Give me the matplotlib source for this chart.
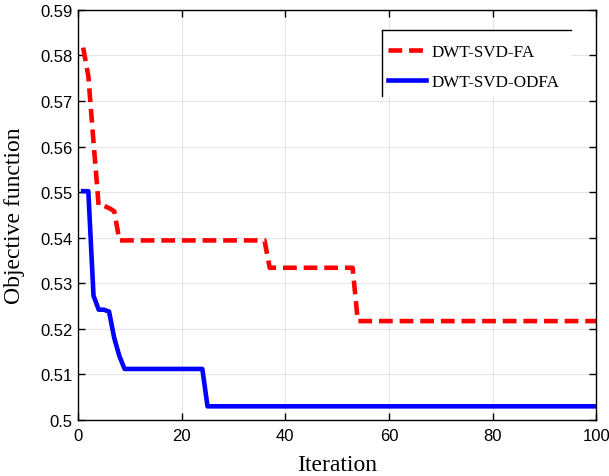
import matplotlib
matplotlib.use("Agg")
import matplotlib.pyplot as plt
from matplotlib.lines import Line2D
from matplotlib.patches import Rectangle

# iteration / objective value pairs (vertices of the traces)
itFA  = [1, 2, 3, 4, 5, 6, 7, 8, 36, 37, 53, 54, 100]
objFA = [0.5817, 0.5755, 0.5610, 0.5470, 0.5470, 0.5465, 0.5458, 0.5394,
         0.5394, 0.5334, 0.5334, 0.5217, 0.5217]

itODFA  = [1, 2, 3, 4, 5, 6, 7, 8, 9, 24, 25, 100]
objODFA = [0.5502, 0.5502, 0.5273, 0.5242, 0.5242, 0.5238, 0.5180, 0.5140,
           0.5112, 0.5112, 0.5030, 0.5030]

xTicks = [0, 20, 40, 60, 80, 100]
yTicks = [0.5, 0.51, 0.52, 0.53, 0.54, 0.55, 0.56, 0.57, 0.58, 0.59]
yTickLabels = ['0.5', '0.51', '0.52', '0.53', '0.54', '0.55', '0.56', '0.57', '0.58', '0.59']

serif = 'Liberation Serif'
sans = 'Liberation Sans'

fig = plt.figure(figsize=(6.09, 4.77), dpi=100)
ax = fig.add_axes([0.128, 0.1174, 0.851, 0.86])

ax.plot(itFA, objFA, color='red', linewidth=3.3, linestyle=(0, (3, 1.5)),
        label='DWT-SVD-FA')
ax.plot(itODFA, objODFA, color='blue', linewidth=3.3, label='DWT-SVD-ODFA')

ax.set_xlim(0, 100)
ax.set_ylim(0.5, 0.59)
ax.set_xticks(xTicks)
ax.set_xticklabels([str(t) for t in xTicks], fontfamily=sans, fontsize=12)
ax.set_yticks(yTicks)
ax.set_yticklabels(yTickLabels, fontfamily=sans, fontsize=12)
ax.tick_params(direction='in', length=5, width=1, top=True, right=True, pad=4)
ax.tick_params(axis='x', pad=6)
ax.grid(True, color='#e6e6e6', linewidth=0.8)
ax.set_axisbelow(True)
for sp in ax.spines.values():
    sp.set_linewidth(1)

ax.set_xlabel('Iteration', fontfamily=serif, fontsize=17, labelpad=8)
ax.set_ylabel('Objective function', fontfamily=serif, fontsize=17, labelpad=11)

# legend box position (axes fraction)
x0, x1 = 0.587, 0.952
y0, y1 = 0.790, 0.951
leg = ax.legend(loc='upper left',
                bbox_to_anchor=(x0 - 0.016, y0, x1 - x0, y1 - y0),
                mode='expand', borderaxespad=0, frameon=False,
                prop={'family': serif, 'size': 12.3}, handlelength=2.2,
                handletextpad=0.3, labelspacing=0.8, borderpad=0.85)

# white legend background; box only shows its top and left edges
ax.add_patch(Rectangle((x0, y0), x1 - x0, y1 - y0, transform=ax.transAxes,
                       facecolor='white', edgecolor='none', zorder=4))
ax.add_line(Line2D([x0, x1], [y1, y1], transform=ax.transAxes, color='black',
                   linewidth=1, zorder=10))
ax.add_line(Line2D([x0, x0], [y0, y1], transform=ax.transAxes, color='black',
                   linewidth=1, zorder=10))

fig.savefig('out.png', dpi=100)
